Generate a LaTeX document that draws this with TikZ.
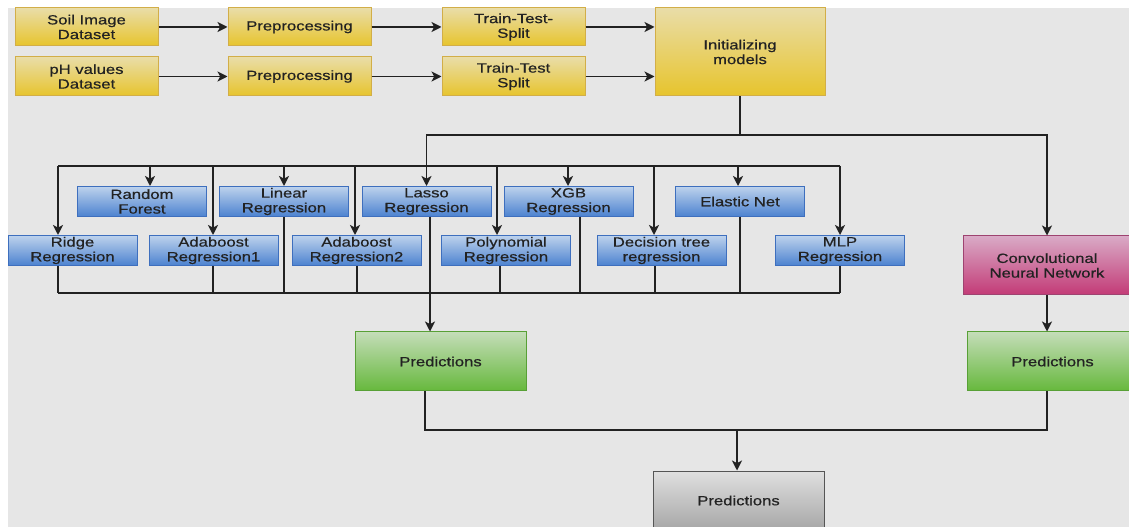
\documentclass[tikz,border=0pt]{standalone}
\usepackage{fontspec}
\setsansfont{Liberation Sans}[FakeStretch=1.25,FakeBold=0.6]
\usepackage{tikz}
\usetikzlibrary{arrows.meta}
\definecolor{canvas}{HTML}{E6E6E6}
\definecolor{txt}{HTML}{222222}
\definecolor{lnk}{HTML}{222222}
\definecolor{ylwtop}{HTML}{E9DDA8}
\definecolor{ylwbot}{HTML}{E7C42C}
\definecolor{ylwline}{HTML}{D2AE48}
\definecolor{blutop}{HTML}{BDD2EC}
\definecolor{blubot}{HTML}{4C82D0}
\definecolor{bluline}{HTML}{3E6FBE}
\definecolor{grntop}{HTML}{C4DDB8}
\definecolor{grnbot}{HTML}{66B83C}
\definecolor{grnline}{HTML}{58A036}
\definecolor{pnktop}{HTML}{D9AAC6}
\definecolor{pnkbot}{HTML}{C33A76}
\definecolor{pnkline}{HTML}{9E4370}
\definecolor{grytop}{HTML}{E0E0E0}
\definecolor{grybot}{HTML}{A6A6A6}
\definecolor{gryline}{HTML}{555555}
\tikzset{
	box/.style={draw, rectangle, inner sep=1pt, align=center, text=txt, line width=0.75pt,
		font=\sffamily\fontsize{10}{11}\selectfont},
	boxsize/.style 2 args={minimum width=#1*0.75pt, minimum height=#2*0.75pt},
	yellowbox/.style={box, draw=ylwline, top color=ylwtop, bottom color=ylwbot},
	bluebox/.style={box, draw=bluline, top color=blutop, bottom color=blubot, boxsize={129}{30}},
	greenbox/.style={box, draw=grnline, top color=grntop, bottom color=grnbot, boxsize={171}{59}},
	pinkbox/.style={box, draw=pnkline, top color=pnktop, bottom color=pnkbot, boxsize={168}{59}},
	graybox/.style={box, draw=gryline, top color=grytop, bottom color=grybot, boxsize={171}{59}},
	link/.style={line width=1.2pt, draw=lnk}
}

\begin{document}
\begin{tikzpicture}[x=0.75pt,y=-0.75pt,>={Stealth[length=7.5pt,width=7.5pt,inset=2pt]}]
	\useasboundingbox (0,0) rectangle (1129,527);
	\fill[canvas] (8,8) rectangle (1129,527);
	\begin{scope}
		\clip (8,8) rectangle (1129,527);
		% data preparation
		\node[yellowbox, boxsize={143}{38}] (soil) at (86.5,27) {Soil Image\\Dataset};
		\node[yellowbox, boxsize={143}{38}] (pre1) at (299.5,27) {Preprocessing};
		\node[yellowbox, boxsize={143}{38}] (tts1) at (513.5,27) {Train-Test-\\Split};
		\node[yellowbox, boxsize={143}{39}] (ph) at (86.5,76.5) {pH values\\Dataset};
		\node[yellowbox, boxsize={143}{39}] (pre2) at (299.5,76.5) {Preprocessing};
		\node[yellowbox, boxsize={143}{39}] (tts2) at (513.5,76.5) {Train-Test\\Split};
		\node[yellowbox, boxsize={170}{88}] (init) at (740,52) {Initializing\\models};
		\draw[link,->] (soil) -- (pre1);
		\draw[link,->] (pre1) -- (tts1);
		\draw[link,->] (tts1) -- (tts1 -| init.west);
		\draw[link,->] (ph) -- (pre2);
		\draw[link,->] (pre2) -- (tts2);
		\draw[link,->] (tts2) -- (tts2 -| init.west);

		% regression models
		\node[bluebox] (rf) at (142,201.5) {Random\\Forest};
		\node[bluebox] (lin) at (284,201.5) {Linear\\Regression};
		\node[bluebox] (lasso) at (426.5,201.5) {Lasso\\Regression};
		\node[bluebox] (xgb) at (568.5,201.5) {XGB\\Regression};
		\node[bluebox] (enet) at (740,201.5) {Elastic Net};
		\node[bluebox] (ridge) at (72.5,250.5) {Ridge\\Regression};
		\node[bluebox] (ada1) at (213.5,250.5) {Adaboost\\Regression1};
		\node[bluebox] (ada2) at (356.5,250.5) {Adaboost\\Regression2};
		\node[bluebox] (poly) at (506,250.5) {Polynomial\\Regression};
		\node[bluebox] (dt) at (661.5,250.5) {Decision tree\\regression};
		\node[bluebox] (mlp) at (840,250.5) {MLP\\Regression};

		\node[pinkbox] (cnn) at (1047,265.5) {Convolutional\\Neural Network};
		\node[greenbox] (predL) at (440.5,361.5) {Predictions};
		\node[greenbox] (predR) at (1052.5,361.5) {Predictions};
		\node[graybox] (predF) at (738.5,500.5) {Predictions};

		% fan out
		\draw[link] (init.south) -- (740,135) coordinate (split);
		\draw[link,->] (split) -| (cnn.north);
		\draw[link,->] (split) -| (lasso.north);
		\draw[link] (58,166) -- (840,166);
		\foreach \n/\x in {ridge/58, rf/150, ada1/213, lin/284, ada2/355, poly/497, xgb/568, dt/654, enet/738, mlp/840}
			\draw[link,->] (\x,166) -- (\n.north -| \x,0);

		% collect
		\draw[link] (58,293) -- (840,293);
		\foreach \n/\x in {ridge/58, ada1/213, lin/284, ada2/357, poly/500, xgb/580, dt/655, enet/740, mlp/840}
			\draw[link] (\n.south -| \x,0) -- (\x,293);
		\draw[link,->] (lasso.south -| 430,0) -- (predL.north -| 430,0);
		\draw[link,->] (cnn.south) -- (cnn.south |- predR.north);
		\draw[link] (predL.south -| 425,0) |- (1047,430) coordinate (join) -- (predR.south -| 1047,0);
		\draw[link,->] (737,430) -- (predF.north -| 737,0);
	\end{scope}
\end{tikzpicture}
\end{document}
